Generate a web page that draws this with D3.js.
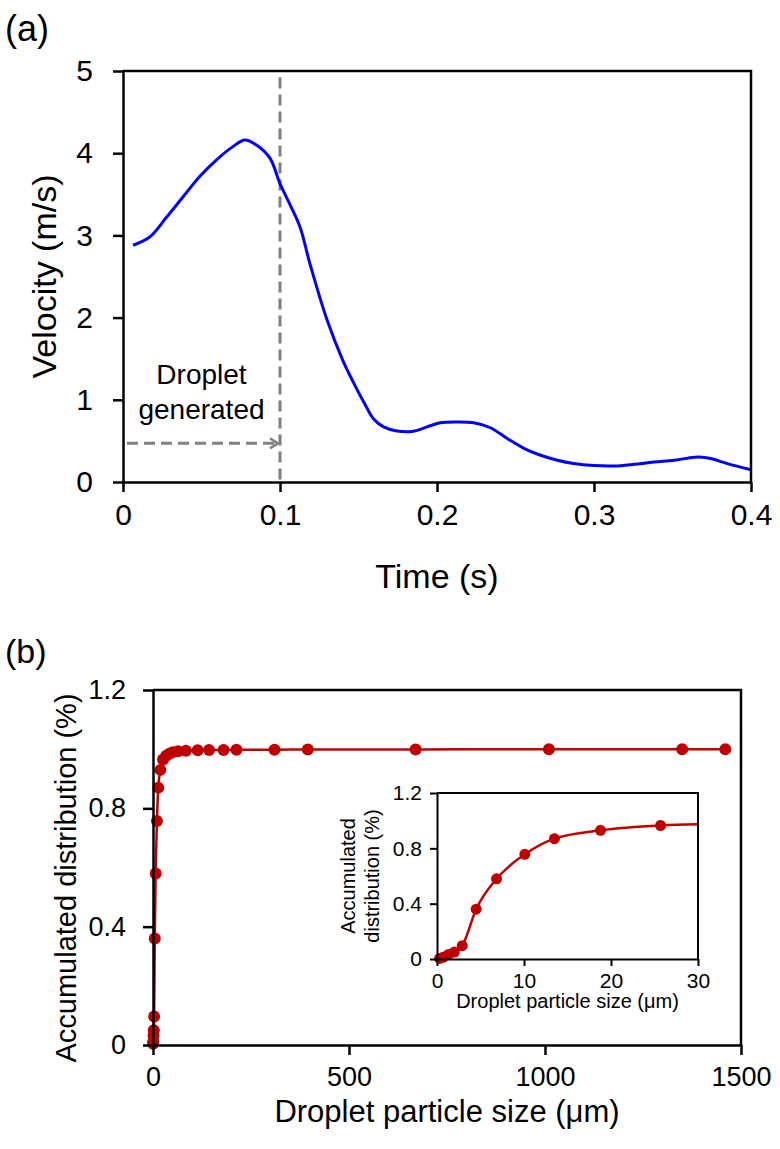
<!DOCTYPE html>
<html>
<head>
<meta charset="utf-8">
<script src="https://cdn.jsdelivr.net/npm/d3@7"></script>
<style>
  body { margin: 0; background: #fff; }
  svg { font-family: "Liberation Sans", Arial, sans-serif; }
</style>
</head>
<body>
<div id="chart"></div>
<script>
// (a) velocity over time
var velTime  = [0.0064, 0.017, 0.0277, 0.0383, 0.049, 0.0596, 0.070, 0.0777, 0.085, 0.0936, 0.100, 0.106, 0.1128, 0.119, 0.130, 0.140, 0.146, 0.154, 0.1595, 0.166, 0.1745, 0.185, 0.1936, 0.202, 0.2128, 0.2234, 0.234, 0.2447, 0.2553, 0.266, 0.2766, 0.287, 0.300, 0.3127, 0.3255, 0.3382, 0.351, 0.3595, 0.367, 0.3744, 0.385, 0.400];
var velValue = [2.88, 2.98, 3.22, 3.47, 3.72, 3.92, 4.08, 4.16, 4.10, 3.94, 3.63, 3.39, 3.10, 2.66, 1.97, 1.48, 1.24, 0.95, 0.77, 0.67, 0.62, 0.617, 0.67, 0.72, 0.73, 0.72, 0.66, 0.53, 0.41, 0.325, 0.264, 0.224, 0.20, 0.195, 0.215, 0.243, 0.264, 0.29, 0.304, 0.285, 0.224, 0.15];
var timeTicks = [0, 0.1, 0.2, 0.3, 0.4];
var velTicks = [0, 1, 2, 3, 4, 5];
var generatedAt = 0.1;      // droplet generated time
var arrowLevel = 0.47;      // height of the dashed arrow

// (b) accumulated distribution of droplet size
var sizeUm  = [0.3, 0.7, 1.3, 2.0, 2.9, 4.5, 6.85, 10.1, 13.5, 18.8, 25.7, 34, 43, 51, 64, 84, 114, 143, 180, 213, 310, 395, 670, 1010, 1350, 1460];
var accDist = [0.004, 0.012, 0.032, 0.05, 0.096, 0.36, 0.58, 0.757, 0.87, 0.93, 0.965, 0.978, 0.985, 0.99, 0.993, 0.995, 0.996, 0.997, 0.997, 0.998, 0.998, 0.999, 0.999, 1.0, 1.0, 1.0];
var sizeTicks = [0, 500, 1000, 1500];
var distTicks = [0, 0.4, 0.8, 1.2];
var insetSizeTicks = [0, 10, 20, 30];

var plain = function(d) { return d; };

var svg = d3.select("#chart").append("svg")
  .attr("width", 780)
  .attr("height", 1149);

svg.append("defs").append("marker")
  .attr("id", "arrow")
  .attr("viewBox", "0 0 10 12")
  .attr("refX", 9).attr("refY", 6)
  .attr("markerWidth", 10).attr("markerHeight", 12)
  .attr("markerUnits", "userSpaceOnUse")
  .attr("orient", "auto")
  .append("path")
    .attr("d", "M1,1 L9,6 L1,11")
    .attr("fill", "none")
    .attr("stroke", "#808080")
    .attr("stroke-width", 2.5);

function styleAxis(g, fontSize) {
  g.selectAll(".domain").attr("stroke", "#000").attr("stroke-width", 2.5);
  g.selectAll(".tick line").attr("stroke", "#000").attr("stroke-width", 2.5);
  g.selectAll(".tick text").attr("font-size", fontSize).attr("fill", "#000")
    .attr("font-family", "Liberation Sans, Arial, sans-serif");
}

// ---------- panel (a) ----------
var ax = d3.scaleLinear().domain([0, 0.4]).range([123, 751]);
var ay = d3.scaleLinear().domain([0, 5]).range([482, 71]);

var gA = svg.append("g");

gA.append("line")
  .attr("x1", ax(generatedAt)).attr("x2", ax(generatedAt))
  .attr("y1", ay(4.92)).attr("y2", ay(0))
  .attr("stroke", "#808080").attr("stroke-width", 3)
  .attr("stroke-dasharray", "11,6");

gA.append("line")
  .attr("x1", ax(0) + 4).attr("x2", ax(generatedAt) - 2)
  .attr("y1", ay(arrowLevel)).attr("y2", ay(arrowLevel))
  .attr("stroke", "#808080").attr("stroke-width", 3)
  .attr("stroke-dasharray", "11,6")
  .attr("marker-end", "url(#arrow)");

var velLine = d3.line()
  .x(function(d, i) { return ax(velTime[i]); })
  .y(function(d) { return ay(d); })
  .curve(d3.curveCatmullRom);

gA.append("path")
  .datum(velValue)
  .attr("d", velLine)
  .attr("fill", "none")
  .attr("stroke", "#0000ff")
  .attr("stroke-width", 3);

// frame top and right
gA.append("path")
  .attr("d", "M" + ax(0) + "," + ay(5) + "H" + ax(0.4) + "V" + ay(0))
  .attr("fill", "none").attr("stroke", "#000").attr("stroke-width", 2.5);

var axA = gA.append("g")
  .attr("transform", "translate(0," + ay(0) + ")")
  .call(d3.axisBottom(ax).tickValues(timeTicks).tickFormat(plain)
    .tickSizeInner(10).tickSizeOuter(0).tickPadding(12));
styleAxis(axA, 30);

var ayA = gA.append("g")
  .attr("transform", "translate(" + ax(0) + ",0)")
  .call(d3.axisLeft(ay).tickValues(velTicks).tickFormat(plain)
    .tickSizeInner(10).tickSizeOuter(0).tickPadding(20));
styleAxis(ayA, 30);

gA.append("text")
  .attr("x", (ax(0) + ax(0.4)) / 2).attr("y", 588)
  .attr("text-anchor", "middle").attr("font-size", 34)
  .text("Time (s)");

gA.append("text")
  .attr("transform", "translate(56," + ((ay(0) + ay(5)) / 2) + ") rotate(-90)")
  .attr("text-anchor", "middle").attr("font-size", 34)
  .text("Velocity (m/s)");

gA.append("text")
  .attr("x", (ax(0) + ax(generatedAt)) / 2).attr("y", 384)
  .attr("text-anchor", "middle").attr("font-size", 28)
  .text("Droplet");
gA.append("text")
  .attr("x", (ax(0) + ax(generatedAt)) / 2).attr("y", 419)
  .attr("text-anchor", "middle").attr("font-size", 28)
  .text("generated");

svg.append("text")
  .attr("x", 5).attr("y", 41)
  .attr("font-size", 36)
  .text("(a)");

// ---------- panel (b) ----------
var bx = d3.scaleLinear().domain([0, 1500]).range([153, 741]);
var by = d3.scaleLinear().domain([0, 1.2]).range([1045, 690]);

var gB = svg.append("g");

var distLine = d3.line()
  .x(function(d, i) { return bx(sizeUm[i]); })
  .y(function(d) { return by(d); })
  .curve(d3.curveMonotoneX);

gB.append("path")
  .datum(accDist)
  .attr("d", distLine)
  .attr("fill", "none")
  .attr("stroke", "#c00000")
  .attr("stroke-width", 2.5);

gB.selectAll("circle")
  .data(accDist)
  .enter().append("circle")
    .attr("cx", function(d, i) { return bx(sizeUm[i]); })
    .attr("cy", function(d) { return by(d); })
    .attr("r", 6)
    .attr("fill", "#c00000");

gB.append("path")
  .attr("d", "M" + bx(0) + "," + by(1.2) + "H" + bx(1500) + "V" + by(0))
  .attr("fill", "none").attr("stroke", "#000").attr("stroke-width", 2.5);

var axB = gB.append("g")
  .attr("transform", "translate(0," + by(0) + ")")
  .call(d3.axisBottom(bx).tickValues(sizeTicks).tickFormat(plain)
    .tickSizeInner(10).tickSizeOuter(0).tickPadding(12));
styleAxis(axB, 27);

var ayB = gB.append("g")
  .attr("transform", "translate(" + bx(0) + ",0)")
  .call(d3.axisLeft(by).tickValues(distTicks).tickFormat(plain)
    .tickSizeInner(10).tickSizeOuter(0).tickPadding(17));
styleAxis(ayB, 27);

gB.append("text")
  .attr("x", (bx(0) + bx(1500)) / 2).attr("y", 1122)
  .attr("text-anchor", "middle").attr("font-size", 31)
  .text("Droplet particle size (\u03bcm)");

gB.append("text")
  .attr("transform", "translate(76,878) rotate(-90)")
  .attr("text-anchor", "middle").attr("font-size", 29)
  .text("Accumulated distribution (%)");

svg.append("text")
  .attr("x", 5).attr("y", 663)
  .attr("font-size", 34)
  .text("(b)");

// ---------- inset ----------
var ix = d3.scaleLinear().domain([0, 30]).range([437, 698]);
var iy = d3.scaleLinear().domain([0, 1.2]).range([959, 793]);

var gI = svg.append("g");

gI.append("clipPath").attr("id", "insetClip")
  .append("rect")
    .attr("x", ix(0) - 10).attr("y", iy(1.2))
    .attr("width", ix(30) - ix(0) + 10).attr("height", iy(0) - iy(1.2) + 10);

var insetLine = d3.line()
  .x(function(d, i) { return ix(sizeUm[i]); })
  .y(function(d) { return iy(d); })
  .curve(d3.curveMonotoneX);

var gClip = gI.append("g").attr("clip-path", "url(#insetClip)");

gClip.append("path")
  .datum(accDist)
  .attr("d", insetLine)
  .attr("fill", "none")
  .attr("stroke", "#c00000")
  .attr("stroke-width", 2.5);

gClip.selectAll("circle")
  .data(accDist.filter(function(d, i) { return sizeUm[i] <= 30; }))
  .enter().append("circle")
    .attr("cx", function(d, i) { return ix(sizeUm[i]); })
    .attr("cy", function(d) { return iy(d); })
    .attr("r", 5.5)
    .attr("fill", "#c00000");

gI.append("path")
  .attr("d", "M" + ix(0) + "," + iy(1.2) + "H" + ix(30) + "V" + iy(0))
  .attr("fill", "none").attr("stroke", "#000").attr("stroke-width", 2);

var axI = gI.append("g")
  .attr("transform", "translate(0," + iy(0) + ")")
  .call(d3.axisBottom(ix).tickValues(insetSizeTicks).tickSizeInner(7).tickSizeOuter(0).tickPadding(7));
styleAxis(axI, 21);
axI.selectAll(".domain, .tick line").attr("stroke-width", 2);

var ayI = gI.append("g")
  .attr("transform", "translate(" + ix(0) + ",0)")
  .call(d3.axisLeft(iy).tickValues(distTicks).tickFormat(plain)
    .tickSizeInner(7).tickSizeOuter(0).tickPadding(8));
styleAxis(ayI, 21);
ayI.selectAll(".domain, .tick line").attr("stroke-width", 2);

gI.append("text")
  .attr("x", (ix(0) + ix(30)) / 2).attr("y", 1008)
  .attr("text-anchor", "middle").attr("font-size", 20)
  .text("Droplet particle size (\u03bcm)");

gI.append("text")
  .attr("transform", "translate(355," + ((iy(0) + iy(1.2)) / 2) + ") rotate(-90)")
  .attr("text-anchor", "middle").attr("font-size", 20)
  .text("Accumulated");
gI.append("text")
  .attr("transform", "translate(379," + ((iy(0) + iy(1.2)) / 2) + ") rotate(-90)")
  .attr("text-anchor", "middle").attr("font-size", 20)
  .text("distribution (%)");
</script>
</body>
</html>
